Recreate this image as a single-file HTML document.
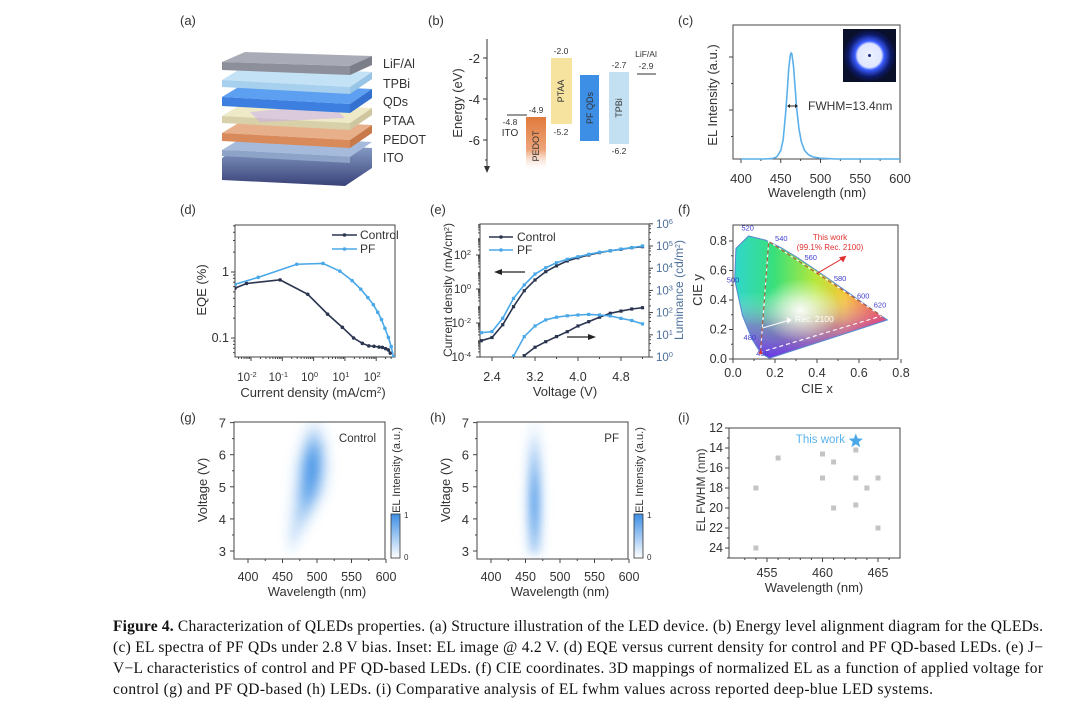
<!DOCTYPE html>
<html><head><meta charset="utf-8"><style>
html,body{margin:0;padding:0;background:#fff;}
svg{display:block;}
text{font-family:"Liberation Sans",sans-serif;fill:#333;}
.cap{font-family:"Liberation Serif",serif;font-size:15.5px;fill:#111;}
</style></head><body>
<svg id="fig" width="1080" height="705" viewBox="0 0 1080 705" xmlns="http://www.w3.org/2000/svg">
<defs>
<linearGradient id="pedotG" x1="0" y1="0" x2="0" y2="1"><stop offset="0" stop-color="#e07a3c"/><stop offset="0.6" stop-color="#eda57a"/><stop offset="1" stop-color="#fff" stop-opacity="0"/></linearGradient>
<linearGradient id="cieH" x1="0" y1="0" x2="1" y2="0"><stop offset="0" stop-color="#2fd6d0"/><stop offset="0.25" stop-color="#39e07a"/><stop offset="0.5" stop-color="#b6e83a"/><stop offset="0.68" stop-color="#f6c53a"/><stop offset="0.85" stop-color="#f05a3a"/><stop offset="1" stop-color="#e8203a"/></linearGradient>
<linearGradient id="cieV" x1="0" y1="1" x2="0" y2="0"><stop offset="0" stop-color="#6a2cf0" stop-opacity="0.95"/><stop offset="0.25" stop-color="#b040e0" stop-opacity="0.5"/><stop offset="0.5" stop-color="#ffffff" stop-opacity="0"/></linearGradient>
<radialGradient id="cieW" cx="0.5" cy="0.5" r="0.5"><stop offset="0" stop-color="#fff" stop-opacity="0.95"/><stop offset="1" stop-color="#fff" stop-opacity="0"/></radialGradient>
<linearGradient id="cbar" x1="0" y1="1" x2="0" y2="0"><stop offset="0" stop-color="#fff"/><stop offset="1" stop-color="#3d8fe6"/></linearGradient>
<linearGradient id="itoG" x1="0" y1="0" x2="0" y2="1"><stop offset="0" stop-color="#8ea6cf"/><stop offset="1" stop-color="#3a4278"/></linearGradient>
<radialGradient id="inset" cx="0.5" cy="0.5" r="0.5"><stop offset="0" stop-color="#eef3ff"/><stop offset="0.45" stop-color="#dfe6ff"/><stop offset="0.55" stop-color="#3a5cff"/><stop offset="0.8" stop-color="#0d1a6a"/><stop offset="1" stop-color="#0a0f2a"/></radialGradient>
<filter id="blur" x="-20%" y="-20%" width="140%" height="140%"><feGaussianBlur stdDeviation="4"/></filter>
<clipPath id="clipD"><rect x="235" y="225" width="160" height="132"/></clipPath>
<clipPath id="clipE"><rect x="480" y="224" width="169" height="133"/></clipPath>
<clipPath id="clipG"><rect x="234" y="422" width="151" height="137"/></clipPath>
<clipPath id="clipH"><rect x="477" y="422" width="151" height="137"/></clipPath>
</defs>
<rect x="0" y="0" width="1080" height="705" fill="#fff"/>

<g font-size="13">
<text x="180" y="25">(a)</text><text x="428" y="25">(b)</text><text x="678" y="25">(c)</text>
<text x="180" y="214">(d)</text><text x="430" y="214">(e)</text><text x="678" y="214">(f)</text>
<text x="180" y="422">(g)</text><text x="430" y="422">(h)</text><text x="678" y="422">(i)</text>
</g>

<g>
<g><polygon points="222,158 245,142 372,148 372,168 345,186 222,180" fill="url(#itoG)"/><polygon points="222,150 245,136 372,142 350,157" fill="#a6bbdc"/><polygon points="222,150 350,157 350,163 222,156" fill="#8ea3c8"/></g>
<g><polygon points="222,133 245,119 372,125 350,140" fill="#e8b08a"/><polygon points="222,133 350,140 350,148 222,141" fill="#d98a5a"/><polygon points="350,140 372,125 372,133 350,148" fill="#c97a4a"/></g>
<g><polygon points="222,116 245,102 372,108 350,123" fill="#eeeac8"/><polygon points="222,116 350,123 350,130 222,123" fill="#d8d0a8"/><polygon points="350,123 372,108 372,115 350,130" fill="#cfc6a0"/><polygon points="250,112 330,104 345,118 260,122" fill="#c7a8f0" opacity="0.5"/></g>
<g><polygon points="222,97 245,83 372,89 350,104" fill="#5d9ff0"/><polygon points="222,97 350,104 350,113 222,106" fill="#3c7fe0"/><polygon points="350,104 372,89 372,98 350,113" fill="#3370d0"/></g>
<g><polygon points="222,80 245,66 372,72 350,87" fill="#c4e2f5"/><polygon points="222,80 350,87 350,94 222,87" fill="#a7d0ee"/><polygon points="350,87 372,72 372,79 350,94" fill="#98c4e6"/></g>
<g><polygon points="222,62 245,52 372,56 350,66" fill="#a9acb6"/><polygon points="222,62 350,66 350,75 222,70" fill="#8d909a"/><polygon points="350,66 372,56 372,65 350,75" fill="#7c7f89"/></g>
<g font-size="12.5">
<text x="383" y="68">LiF/Al</text><text x="383" y="88">TPBi</text><text x="383" y="106">QDs</text><text x="383" y="125">PTAA</text><text x="383" y="144">PEDOT</text><text x="383" y="162">ITO</text></g>
</g>

<g>
<line x1="487" y1="39" x2="487" y2="168" stroke="#333" stroke-width="1"/>
<polygon points="484,166 490,166 487,173" fill="#333"/>
<g font-size="13" text-anchor="end">
<line x1="483" y1="58" x2="487" y2="58" stroke="#333"/><text x="480" y="63">-2</text>
<line x1="483" y1="99" x2="487" y2="99" stroke="#333"/><text x="480" y="104">-4</text>
<line x1="483" y1="140" x2="487" y2="140" stroke="#333"/><text x="480" y="145">-6</text>
<line x1="485" y1="78" x2="487" y2="78" stroke="#333"/><line x1="485" y1="119" x2="487" y2="119" stroke="#333"/><line x1="485" y1="160" x2="487" y2="160" stroke="#333"/></g>
<text transform="translate(462,103) rotate(-90)" font-size="13" text-anchor="middle">Energy (eV)</text>
<g font-size="8.5" text-anchor="middle">
<line x1="507" y1="115" x2="527" y2="115" stroke="#777" stroke-width="1.5"/>
<text x="510" y="125">-4.8</text><text x="510" y="136" font-size="10">ITO</text>
<rect x="526" y="117" width="20" height="55" fill="url(#pedotG)"/>
<text x="536" y="113">-4.9</text><text transform="translate(539,146) rotate(-90)" font-size="9" text-anchor="middle">PEDOT</text>
<rect x="551" y="58" width="21" height="66" fill="#f6e3a0"/>
<text x="561" y="54">-2.0</text><text x="561" y="135">-5.2</text><text transform="translate(564,91) rotate(-90)" font-size="9" text-anchor="middle">PTAA</text>
<rect x="580" y="75" width="19" height="66" fill="#3d8fe6"/>
<text transform="translate(593,108) rotate(-90)" font-size="9" text-anchor="middle">PF QDs</text>
<rect x="609" y="72" width="20" height="72" fill="#c3e0f2"/>
<text x="619" y="68">-2.7</text><text x="619" y="154">-6.2</text><text transform="translate(622,108) rotate(-90)" font-size="9" text-anchor="middle">TPBi</text>
<line x1="637" y1="74" x2="656" y2="74" stroke="#777" stroke-width="1.5"/>
<text x="646" y="57">LiF/Al</text><text x="646" y="69">-2.9</text>
</g></g>

<g>
<rect x="733" y="25" width="167" height="134" fill="none" stroke="#444"/>
<g id="cTicks"></g>
<rect x="843" y="29" width="53" height="53" fill="url(#inset)"/>
<circle cx="869.5" cy="55.5" r="1.5" fill="#1b2d8a"/>
<polyline id="cCurve" fill="none" stroke="#5ab0ea" stroke-width="1.6"/>
<line x1="788" y1="106" x2="797" y2="106" stroke="#222" stroke-width="1"/>
<polygon points="787,106 790,104 790,108" fill="#222"/><polygon points="798,106 795,104 795,108" fill="#222"/>
<text x="808" y="110" font-size="12">FWHM=13.4nm</text>
<text transform="translate(717,95) rotate(-90)" font-size="13" text-anchor="middle">EL Intensity (a.u.)</text>
<text x="817" y="197" font-size="13" text-anchor="middle">Wavelength (nm)</text>
</g>

<g>
<rect x="235" y="225" width="160" height="132" fill="none" stroke="#444"/>
<g id="dTicks"></g>
<g id="dMarks" clip-path="url(#clipD)"></g>
<g font-size="12">
<line x1="332" y1="235" x2="357" y2="235" stroke="#2b3550" stroke-width="1.6"/><circle cx="344.5" cy="235" r="1.8" fill="#2b3550"/><text x="360" y="239">Control</text>
<line x1="332" y1="249" x2="357" y2="249" stroke="#4aa8e8" stroke-width="1.6"/><circle cx="344.5" cy="249" r="1.8" fill="#4aa8e8"/><text x="360" y="253">PF</text></g>
<text transform="translate(206,290) rotate(-90)" font-size="13" text-anchor="middle">EQE (%)</text>
<text x="313" y="397" font-size="13" text-anchor="middle">Current density (mA/cm<tspan baseline-shift="super" font-size="8">2</tspan>)</text>
</g>

<g>
<rect x="480" y="224" width="169" height="133" fill="none" stroke="#444"/>
<g id="eTicks"></g>
<g id="eMarks" clip-path="url(#clipE)"></g>
<g font-size="12">
<line x1="489" y1="237" x2="513" y2="237" stroke="#2b3550" stroke-width="1.6"/><circle cx="501" cy="237" r="1.8" fill="#2b3550"/><text x="517" y="241">Control</text>
<line x1="489" y1="250" x2="513" y2="250" stroke="#4aa8e8" stroke-width="1.6"/><circle cx="501" cy="250" r="1.8" fill="#4aa8e8"/><text x="517" y="254">PF</text></g>
<g><line x1="525" y1="272" x2="500" y2="272" stroke="#222" stroke-width="1.2"/><polygon points="494,272 502,269 502,275" fill="#222"/></g>
<g><line x1="567" y1="337" x2="590" y2="337" stroke="#222" stroke-width="1.2"/><polygon points="596,337 588,334 588,340" fill="#222"/></g>
<text transform="translate(452,290) rotate(-90)" font-size="12" text-anchor="middle">Current density (mA/cm<tspan baseline-shift="super" font-size="7">2</tspan>)</text>
<text transform="translate(683,290) rotate(-90)" font-size="12" text-anchor="middle" style="fill:#4d6f9a">Luminance (cd/m<tspan baseline-shift="super" font-size="7">2</tspan>)</text>
<text x="565" y="396" font-size="13" text-anchor="middle">Voltage (V)</text>
</g>

<g>
<g id="fMarks"></g>
<rect x="733" y="225" width="165" height="134" fill="none" stroke="#444"/>
<g id="fTicks"></g>
<text transform="translate(702,290) rotate(-90)" font-size="13" text-anchor="middle">CIE y</text>
<text x="817" y="393" font-size="13" text-anchor="middle">CIE x</text>
<text x="830" y="240" font-size="8" text-anchor="middle" style="fill:#e03030">This work</text>
<text x="830" y="250" font-size="8" text-anchor="middle" style="fill:#e03030">(99.1% Rec. 2100)</text>
<text x="795" y="322" font-size="8.5" style="fill:#fff">Rec. 2100</text>
</g>

<g>
<g id="gMarks" clip-path="url(#clipG)"></g>
<rect x="234" y="422" width="151" height="137" fill="none" stroke="#444"/>
<g id="gTicks"></g>
<text x="376" y="442" font-size="11.5" text-anchor="end">Control</text>
<rect x="391" y="514" width="9" height="44" fill="url(#cbar)" stroke="#333" stroke-width="0.8"/>
<text x="404" y="518" font-size="8">1</text><text x="404" y="560" font-size="8">0</text>
<text transform="translate(400,470) rotate(-90)" font-size="11" text-anchor="middle">EL Intensity (a.u.)</text>
<text transform="translate(207,490) rotate(-90)" font-size="13" text-anchor="middle">Voltage (V)</text>
<text x="317" y="596" font-size="13" text-anchor="middle">Wavelength (nm)</text>
</g>
<g>
<g id="hMarks" clip-path="url(#clipH)"></g>
<rect x="477" y="422" width="151" height="137" fill="none" stroke="#444"/>
<g id="hTicks"></g>
<text x="619" y="442" font-size="11.5" text-anchor="end">PF</text>
<rect x="634" y="514" width="9" height="44" fill="url(#cbar)" stroke="#333" stroke-width="0.8"/>
<text x="647" y="518" font-size="8">1</text><text x="647" y="560" font-size="8">0</text>
<text transform="translate(643,470) rotate(-90)" font-size="11" text-anchor="middle">EL Intensity (a.u.)</text>
<text transform="translate(450,490) rotate(-90)" font-size="13" text-anchor="middle">Voltage (V)</text>
<text x="560" y="596" font-size="13" text-anchor="middle">Wavelength (nm)</text>
</g>

<g>
<rect x="729" y="428" width="171" height="130" fill="none" stroke="#444"/>
<g id="iTicks"></g><g id="iMarks"></g>
<text x="845" y="443" font-size="11.5" text-anchor="end" style="fill:#5ab4ee">This work</text>
<text transform="translate(705,490) rotate(-90)" font-size="12" text-anchor="middle">EL FWHM (nm)</text>
<text x="814" y="592" font-size="13" text-anchor="middle">Wavelength (nm)</text>
</g>

<g>
<text class="cap" x="113" y="631" textLength="930" lengthAdjust="spacing"><tspan font-weight="bold">Figure 4.</tspan> Characterization of QLEDs properties. (a) Structure illustration of the LED device. (b) Energy level alignment diagram for the QLEDs.</text>
<text class="cap" x="113" y="652" textLength="930" lengthAdjust="spacing">(c) EL spectra of PF QDs under 2.8 V bias. Inset: EL image @ 4.2 V. (d) EQE versus current density for control and PF QD-based LEDs. (e) J−</text>
<text class="cap" x="113" y="673" textLength="930" lengthAdjust="spacing">V−L characteristics of control and PF QD-based LEDs. (f) CIE coordinates. 3D mappings of normalized EL as a function of applied voltage for</text>
<text class="cap" x="113" y="694" textLength="820" lengthAdjust="spacing">control (g) and PF QD-based (h) LEDs. (i) Comparative analysis of EL fwhm values across reported deep-blue LED systems.</text>
</g>
</svg>
<script>
const cWl = [400,430,440,445,450,453,456,458,460,462,463,464,466,468,470,473,476,480,485,490,500,520,600];
const cInt = [0,0,0.005,0.02,0.08,0.18,0.42,0.62,0.85,0.98,1,0.99,0.88,0.68,0.48,0.28,0.16,0.08,0.04,0.02,0.008,0,0];
const cTickLabels = ['400','450','500','550','600'];

const dCtrlJ = [0.0031,0.0072,0.085,0.65,2.8,8.3,19,36,58,85,123,158,200,245,282];
const dCtrlEQE = [0.57,0.67,0.76,0.46,0.23,0.145,0.1,0.083,0.076,0.075,0.073,0.072,0.069,0.066,0.059];
const dPfJ = [0.0031,0.017,0.29,2.0,6.9,17,32,54,81,112,148,190,245,302,355];
const dPfEQE = [0.65,0.83,1.31,1.35,1.03,0.74,0.55,0.41,0.32,0.245,0.19,0.14,0.102,0.074,0.052];
const dXExp = [-2,-1,0,1,2];
const dYTicks = ['0.1','1'];

const eV = [2.2,2.4,2.6,2.8,3.0,3.2,3.4,3.6,3.8,4.0,4.2,4.4,4.6,4.8,5.0,5.2];
const eCtrlJ = [9.1e-4,1.4e-3,7.9e-3,0.091,0.79,3.4,10.5,23,45,69,100,138,178,214,269,309];
const ePfJ = [2.7e-3,3.1e-3,0.019,0.28,1.74,7.6,17.8,35,56,79,110,145,178,224,269,339];
const eCtrlLV = [3.0,3.2,3.4,3.6,3.8,4.0,4.2,4.4,4.6,4.8,5.0,5.2];
const eCtrlL = [1.15,2.75,4.9,8.3,13.8,25,39,62,93,117,145,166];
const ePfLV = [2.8,3.0,3.2,3.4,3.6,3.8,4.0,4.2,4.4,4.6,4.8,5.0,5.2];
const ePfL = [1.1,8.3,25,47,62,72,78,83,78,71,55,44,31];
const eXTicks = ['2.4','3.2','4.0','4.8'];
const eLeftExp = [-4,-2,0,2];
const eRightExp = [0,1,2,3,4,5,6];

const fLocusX = [0.174,0.144,0.124,0.091,0.045,0.008,0.014,0.074,0.155,0.230,0.302,0.373,0.444,0.512,0.575,0.627,0.691,0.735];
const fLocusY = [0.005,0.030,0.058,0.133,0.295,0.538,0.750,0.834,0.806,0.754,0.692,0.624,0.555,0.487,0.424,0.372,0.308,0.265];
const fRecX = [0.708,0.170,0.131];
const fRecY = [0.292,0.797,0.046];
const fWlLabels = ['460','480','500','520','540','560','580','600','620'];
const fWlX = [0.14,0.08,0.0,0.07,0.23,0.37,0.51,0.62,0.70];
const fWlY = [0.02,0.13,0.52,0.87,0.80,0.67,0.53,0.41,0.35];
const fTicks = ['0.0','0.2','0.4','0.6','0.8'];

const hmV = [3.0,3.25,3.5,3.75,4.0,4.25,4.5,4.75,5.0,5.25,5.5,5.75,6.0,6.25,6.5,6.75,7.0];
const gPeak = [463,465,468,472,476,480,484,487,489,491,492,493,494,495,495,496,496];
const gAmp = [0.05,0.12,0.2,0.25,0.32,0.42,0.55,0.68,0.78,0.85,0.88,0.86,0.78,0.6,0.4,0.2,0.08];
const gSig = [6,7,8,9,10,11,11,12,12,12,12,12,11,11,10,10,9];
const hPeak = [463,463,463,463,463,463,463,463,463,463,463,463,463,463,463,463,463];
const hAmp = [0.3,0.45,0.55,0.65,0.72,0.78,0.8,0.78,0.72,0.65,0.55,0.45,0.35,0.25,0.15,0.08,0.04];
const hSig = [6.5,6.5,6.5,6.5,6.5,6.5,6.5,6.5,6.5,6.5,6.5,6.5,6.5,6.5,6.5,6.5,6.5];
const hmXTicks = ['400','450','500','550','600'];
const hmYTicks = ['3','4','5','6','7'];

const iWl = [454,454,456,460,460,461,461,463,463,463,464,465,465];
const iFwhm = [18,24,15,14.6,17,15.4,20,14.2,17,19.7,18,17,22];
const iStarWl = [463];
const iStarFwhm = [13.3];
const iXTicks = ['455','460','465'];
const iYTicks = ['12','14','16','18','20','22','24'];

const NS = 'http://www.w3.org/2000/svg';
function mk(tag, a, p){const e=document.createElementNS(NS,tag);for(const k in a)e.setAttribute(k,a[k]);p.appendChild(e);return e;}
function txt(s,x,y,a,p){const e=mk('text',Object.assign({x:x,y:y},a),p);e.textContent=s;return e;}
function line(x1,y1,x2,y2,p){return mk('line',{x1:x1,y1:y1,x2:x2,y2:y2,stroke:'#444','stroke-width':1},p);}
function powLabel(exp,x,y,anchor,p,fs){const t=txt('10',x,y,{'font-size':fs||11.5,'text-anchor':anchor},p);const s=mk('tspan',{'baseline-shift':'super','font-size':7.5},t);s.textContent=String(exp);return t;}
const L10 = Math.log10;

const cX = w => 741 + (w-400)*0.795;
const cY = v => 159 - v*106;
{
const g = document.getElementById('cTicks');
cTickLabels.forEach(s=>{const x=cX(+s);line(x,159,x,163,g);txt(s,x,183,{'font-size':13,'text-anchor':'middle'},g);});
[425,475,525,575].forEach(w=>line(cX(w),159,cX(w),161,g));
[0.5,1].forEach(v=>line(729,cY(v)+4,733,cY(v)+4,g));
[0.25,0.75].forEach(v=>line(731,cY(v)+4,733,cY(v)+4,g));
document.getElementById('cCurve').setAttribute('points', cWl.map((w,i)=>cX(w)+','+cY(cInt[i])).join(' '));
}

const dX = v => 251 + (L10(v)+2)*31.3;
const dY = v => 272 - L10(v)*66;
{
const g = document.getElementById('dTicks');
dXExp.forEach(e=>{const x=dX(Math.pow(10,e));line(x,357,x,361,g);powLabel(e,x-4,381,'middle',g);});
for(let e=-3;e<=2;e++)for(let k=2;k<10;k++){const x=dX(k*Math.pow(10,e));if(x>235&&x<395)line(x,357,x,359,g);}
dYTicks.forEach(s=>{const y=dY(+s);line(231,y,235,y,g);txt(s,229,y+4,{'font-size':12.5,'text-anchor':'end'},g);});
for(let e=-2;e<=0;e++)for(let k=2;k<10;k++){const y=dY(k*Math.pow(10,e));if(y>225&&y<357)line(233,y,235,y,g);}
const m = document.getElementById('dMarks');
[[dCtrlJ,dCtrlEQE,'#2b3550','control'],[dPfJ,dPfEQE,'#4aa8e8','pf']].forEach(([xs,ys,col,nm])=>{
  const pl = mk('polyline',{points:xs.map((x,i)=>dX(x)+','+dY(ys[i])).join(' '),fill:'none',stroke:col,'stroke-width':1.6},m);
  
  
  xs.forEach((x,i)=>{const c=mk('circle',{cx:dX(x),cy:dY(ys[i]),r:1.8,fill:col},m);
    
    });
});
}

const eX = v => 492 + (v-2.4)*53.75;
const eYL = j => 357 - (L10(j)+4)*17;
const eYR = l => 357 - L10(l)*22.2;
{
const g = document.getElementById('eTicks');
eXTicks.forEach(s=>{const x=eX(+s);line(x,357,x,361,g);txt(s,x,381,{'font-size':12.5,'text-anchor':'middle'},g);});
[2.8,3.6,4.4,5.2].forEach(v=>line(eX(v),357,eX(v),359,g));
eLeftExp.forEach(e=>{const y=eYL(Math.pow(10,e));line(476,y,480,y,g);powLabel(e,471,y+4,'end',g);});
for(let e=-4;e<4;e++)for(let k=2;k<10;k+=1){const y=eYL(k*Math.pow(10,e));if(y>224&&y<357)line(478,y,480,y,g);}
eRightExp.forEach(e=>{const y=eYR(Math.pow(10,e));line(649,y,653,y,g);const t=powLabel(e,656,y+4,'start',g);t.setAttribute('style','fill:#4d6f9a');});
for(let e=0;e<6;e++)for(let k=2;k<10;k+=2){const y=eYR(k*Math.pow(10,e));line(649,y,651,y,g);}
const m = document.getElementById('eMarks');
const series = [[eV,eCtrlJ,eYL,'#2b3550','j-control'],[eV,ePfJ,eYL,'#4aa8e8','j-pf'],[eCtrlLV,eCtrlL,eYR,'#2b3550','l-control'],[ePfLV,ePfL,eYR,'#4aa8e8','l-pf']];
series.forEach(([xs,ys,yf,col,nm])=>{
  const pl = mk('polyline',{points:xs.map((x,i)=>eX(x)+','+yf(ys[i])).join(' '),fill:'none',stroke:col,'stroke-width':1.6},m);
  
  
  xs.forEach((x,i)=>{const c=mk('rect',{x:eX(x)-1.6,y:yf(ys[i])-1.6,width:3.2,height:3.2,fill:col},m);
    
    });
});
}

const fX = v => 733 + v*210;
const fY = v => 359 - v*147.5;
{
const m = document.getElementById('fMarks');
const pts = fLocusX.map((x,i)=>fX(x)+','+fY(fLocusY[i])).join(' ');
const cp = mk('clipPath',{id:'locusClip'},m); mk('polygon',{points:pts},cp);
const gg = mk('g',{'clip-path':'url(#locusClip)'},m);
mk('rect',{x:733,y:225,width:165,height:134,fill:'url(#cieH)'},gg);
mk('rect',{x:733,y:225,width:165,height:134,fill:'url(#cieV)'},gg);
mk('ellipse',{cx:fX(0.32),cy:fY(0.33),rx:40,ry:32,fill:'url(#cieW)'},gg);
const loc = mk('polygon',{points:pts,fill:'none',stroke:'#5a8ad0','stroke-width':1},m);


const tri = mk('polygon',{points:fRecX.map((x,i)=>fX(x)+','+fY(fRecY[i])).join(' '),fill:'none',stroke:'#fff','stroke-width':1.1,'stroke-dasharray':'4,3'},m);


const tri2 = mk('polyline',{points:fX(fRecX[2])+','+fY(fRecY[2])+' '+fX(fRecX[1])+','+fY(fRecY[1])+' '+fX(fRecX[0])+','+fY(fRecY[0]),fill:'none',stroke:'#b05a3a','stroke-width':1.1,'stroke-dasharray':'4,3'},m);


fWlLabels.forEach((s,i)=>{const t=txt(s,fX(fWlX[i]),fY(fWlY[i]),{'font-size':7.5,'text-anchor':'middle',style:'fill:#4040d0'},m);
  
  });
mk('line',{x1:fX(0.40),y1:fY(0.58),x2:fX(0.52),y2:fY(0.68),stroke:'#e03030','stroke-width':1},m);
mk('polygon',{points:`${fX(0.54)},${fY(0.70)} ${fX(0.505)},${fY(0.69)} ${fX(0.525)},${fY(0.655)}`,fill:'#e03030'},m);
mk('line',{x1:fX(0.14),y1:fY(0.21),x2:fX(0.26),y2:fY(0.26),stroke:'#fff','stroke-width':1.1},m);
mk('polygon',{points:`${fX(0.28)},${fY(0.265)} ${fX(0.255)},${fY(0.285)} ${fX(0.26)},${fY(0.24)}`,fill:'#fff'},m);
mk('polygon',{points:`${fX(0.131)},${fY(0.065)} ${fX(0.122)},${fY(0.035)} ${fX(0.142)},${fY(0.035)}`,fill:'#e03030'},m);
const g = document.getElementById('fTicks');
fTicks.forEach(s=>{const x=fX(+s),y=fY(+s);line(x,359,x,363,g);txt(s,x,377,{'font-size':12.5,'text-anchor':'middle'},g);
  line(729,y,733,y,g);txt(s,727,y+4,{'font-size':12.5,'text-anchor':'end'},g);});
[0.1,0.3,0.5,0.7].forEach(v=>{line(fX(v),359,fX(v),361,g);line(731,fY(v),733,fY(v),g);});
}

function heat(off, peaks, amps, sigs, marksId, ticksId, nm){
  const hx = w => 248 + off + (w-400)*0.69;
  const hy = v => 551 - (v-3)*32.1;
  const m = document.getElementById(marksId);
  const bg = mk('g',{filter:'url(#blur)'},m);
  hmV.forEach((v,r)=>{
    for(let w=380; w<=600; w+=3){
      const a = amps[r]*Math.exp(-0.5*Math.pow((w-peaks[r])/sigs[r],2));
      if(a<0.01) continue;
      const c = mk('rect',{x:hx(w)-1.1,y:hy(v)-4.3,width:2.3,height:8.6,fill:'#3d8fe6','fill-opacity':a.toFixed(3)},bg);
      
      
    }
  });
  const g = document.getElementById(ticksId);
  hmXTicks.forEach(s=>{const x=hx(+s);line(x,559,x,563,g);txt(s,x,581,{'font-size':12.5,'text-anchor':'middle'},g);});
  [425,475,525,575].forEach(w=>line(hx(w),559,hx(w),561,g));
  hmYTicks.forEach(s=>{const y=hy(+s);line(230+off,y,234+off,y,g);txt(s,226+off,y+5,{'font-size':13,'text-anchor':'end'},g);});
  [3.5,4.5,5.5,6.5].forEach(v=>line(232+off,hy(v),234+off,hy(v),g));
}
heat(0, gPeak, gAmp, gSig, 'gMarks', 'gTicks', 'control');
heat(243, hPeak, hAmp, hSig, 'hMarks', 'hTicks', 'pf');

const iX = w => 767 + (w-455)*11.1;
const iY = f => 428 + (f-12)*10;
{
const g = document.getElementById('iTicks');
iXTicks.forEach(s=>{const x=iX(+s);line(x,558,x,562,g);txt(s,x,577,{'font-size':12.5,'text-anchor':'middle'},g);});
for(let w=453;w<=466;w++){if(w%5) line(iX(w),558,iX(w),560,g);}
iYTicks.forEach(s=>{const y=iY(+s);line(725,y,729,y,g);txt(s,723,y+4,{'font-size':12.5,'text-anchor':'end'},g);});
for(let f=13;f<=25;f+=2) line(727,iY(f),729,iY(f),g);
const m = document.getElementById('iMarks');
iWl.forEach((w,i)=>{const r=mk('rect',{x:iX(w)-2.5,y:iY(iFwhm[i])-2.5,width:5,height:5,fill:'#c4c4c4'},m);
  
  });
iStarWl.forEach((w,i)=>{
  const cx=iX(w), cy=iY(iStarFwhm[i]); const pts=[];
  for(let k=0;k<10;k++){const a=-Math.PI/2+k*Math.PI/5;const rr=k%2?3.2:7.5;pts.push((cx+rr*Math.cos(a)).toFixed(1)+','+(cy+rr*Math.sin(a)).toFixed(1));}
  const s=mk('polygon',{points:pts.join(' '),fill:'#4aa8e8'},m);
  
  
});
}
</script>
</body></html>
